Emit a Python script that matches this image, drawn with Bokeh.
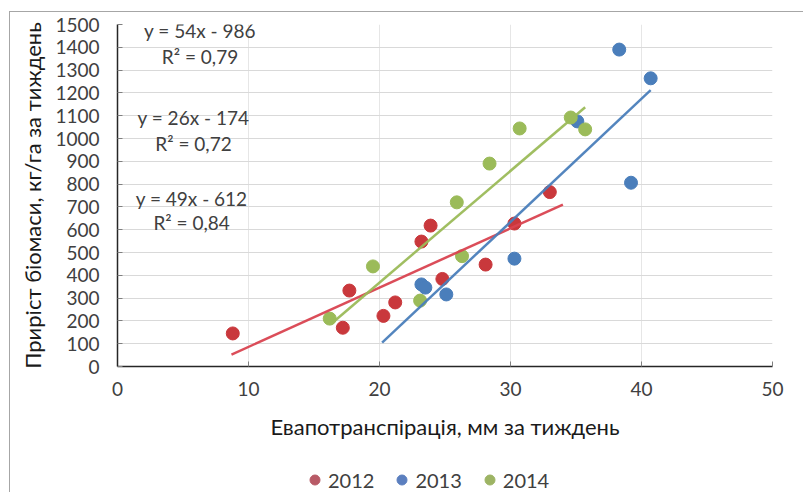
from bokeh.plotting import figure
from bokeh.layouts import column
from bokeh.models import Legend, LegendItem, Label, FixedTicker, Range1d, InlineStyleSheet
from bokeh.embed import file_html
from bokeh.resources import INLINE

# ---- data ----
x_2012 = [8.8, 17.2, 17.7, 20.3, 21.2, 23.2, 23.9, 24.8, 28.1, 30.3, 33.0]
y_2012 = [145, 170, 333, 222, 281, 548, 618, 384, 447, 627, 765]
x_2013 = [23.2, 23.5, 25.1, 30.3, 35.1, 38.3, 39.2, 40.7]
y_2013 = [360, 346, 316, 473, 1075, 1390, 806, 1264]
x_2014 = [16.2, 19.5, 23.1, 25.9, 26.3, 28.4, 30.7, 34.6, 35.7]
y_2014 = [210, 439, 289, 720, 484, 890, 1044, 1092, 1040]

years = ["2012", "2013", "2014"]
slopes = [26, 54, 49]
intercepts = [-174, -986, -612]
trend_x_2012 = [8.7, 34.0]
trend_x_2013 = [20.2, 40.7]
trend_x_2014 = [16.3, 35.7]

eq_texts = ["y = 54x - 986", "R\u00b2 = 0,79", "y = 26x - 174", "R\u00b2 = 0,72",
            "y = 49x - 612", "R\u00b2 = 0,84"]

x_ticks = [0, 10, 20, 30, 40, 50]
y_ticks = list(range(0, 1501, 100))

# ---- style ----
FONT = "Lato"
colors = ["#C9383C", "#4A7EBB", "#9BBB59"]
legend_colors = ["#B85A66", "#5B7FBF", "#9DB464"]
line_colors = ["#D94350", "#4A7EBB", "#9BBB59"]

border_css = InlineStyleSheet(css="""
:host::after {
  content: '';
  position: absolute;
  left: 9px; top: 11px; width: 1000px; height: 1000px;
  border-top: 1px solid #A6A6A6; border-left: 1px solid #A6A6A6;
  pointer-events: none;
}
""")

p = figure(width=803, height=462, x_range=Range1d(0, 50), y_range=Range1d(0, 1500),
           output_backend="svg", toolbar_location=None,
           min_border_left=117, min_border_right=31, min_border_top=24, min_border_bottom=96)
p.outline_line_color = None
p.background_fill_color = "white"
p.border_fill_color = "white"

p.xaxis.ticker = FixedTicker(ticks=x_ticks)
p.yaxis.ticker = FixedTicker(ticks=y_ticks)
p.xgrid.ticker = FixedTicker(ticks=x_ticks)
p.ygrid.ticker = FixedTicker(ticks=y_ticks)
p.xgrid.grid_line_color = "#E6E6E6"
p.ygrid.grid_line_color = "#D9D9D9"

for ax in (p.xaxis, p.yaxis):
    ax.axis_line_color = "#262626"
    ax.axis_line_width = 1.5
    ax.major_tick_in = 5
    ax.major_tick_out = 0
    ax.major_tick_line_color = "#7F7F7F"
    ax.minor_tick_line_color = None
    ax.major_label_text_font = FONT
    ax.major_label_text_font_size = "19px"
    ax.major_label_text_color = "#404040"
    ax.axis_label_text_font = FONT
    ax.axis_label_text_font_size = "22px"
    ax.axis_label_text_font_style = "normal"
    ax.axis_label_text_color = "#1A1A1A"

p.xaxis.axis_label = "Евапотранспірація, мм за тиждень"
p.yaxis.axis_label = "Приріст біомаси, кг/га за тиждень"
p.xaxis.major_label_standoff = 15
p.xaxis.axis_label_standoff = 14
p.yaxis.major_label_standoff = 18
p.yaxis.axis_label_standoff = 6

xs = [x_2012, x_2013, x_2014]
ys = [y_2012, y_2013, y_2014]
trend_xs = [trend_x_2012, trend_x_2013, trend_x_2014]

for i in range(3):
    p.scatter(xs[i], ys[i], size=13, color=colors[i], line_color=colors[i])

for i in range(3):
    tx = trend_xs[i]
    ty = [slopes[i] * v + intercepts[i] for v in tx]
    p.line(tx, ty, line_color=line_colors[i], line_width=2.5, line_alpha=0.95)

# equation labels
eq_pos = [(6.3, 1474), (6.3, 1360), (5.8, 1092), (5.8, 978), (5.66, 737), (5.66, 632)]
for t, (lx, ly) in zip(eq_texts, eq_pos):
    p.add_layout(Label(x=lx, y=ly, text=t, text_align="center", text_baseline="middle",
                       text_font=FONT, text_font_size="19px", text_color="#404040"))

# ---- legend strip under the chart (series glyphs lie outside its range, only the key shows) ----
pl = figure(width=803, height=30, x_range=Range1d(-2, -1), y_range=Range1d(-2, -1),
            output_backend="svg", toolbar_location=None, x_axis_type=None, y_axis_type=None,
            min_border_left=0, min_border_right=0, min_border_top=0, min_border_bottom=0)
pl.outline_line_color = None
pl.xgrid.visible = False
pl.ygrid.visible = False
pl.background_fill_color = "white"
pl.border_fill_color = "white"

items = []
for i in range(3):
    r = pl.scatter(xs[i], ys[i], size=10, color=legend_colors[i], line_color=legend_colors[i])
    items.append(LegendItem(label=years[i], renderers=[r]))

legend = Legend(items=items, orientation="horizontal", location=(185, 0),
                glyph_width=25, glyph_height=25, label_standoff=1, spacing=15,
                padding=0, margin=0, border_line_color=None, background_fill_alpha=0,
                label_text_font=FONT, label_text_font_size="20px", label_text_color="#404040")
pl.add_layout(legend, "center")

layout = column(p, pl, spacing=0, stylesheets=[border_css])

open("out.html", "w").write(file_html(layout, INLINE))
